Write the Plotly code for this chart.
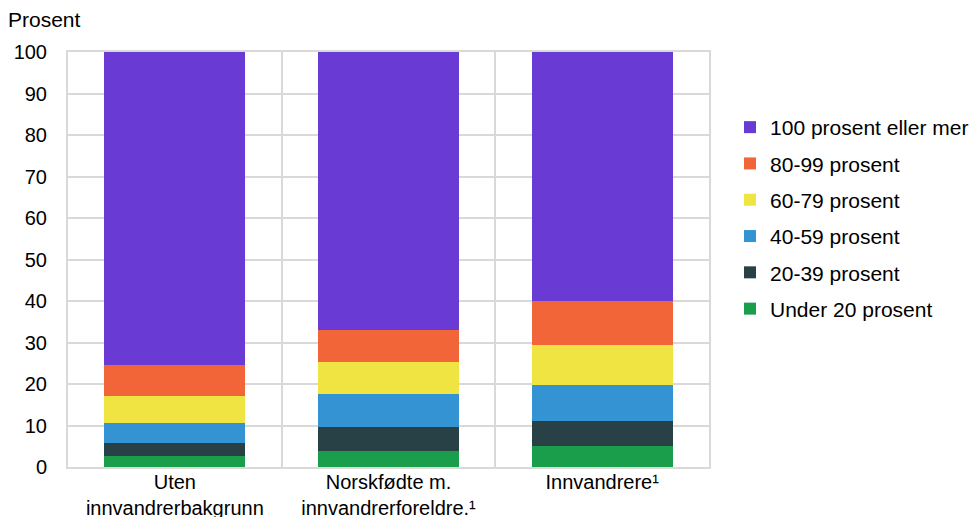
import plotly.graph_objects as go

categories = ["Uten<br>innvandrerbakgrunn", "Norskfødte m.<br>innvandrerforeldre.¹", "Innvandrere¹"]
series_names = ["Under 20 prosent", "20-39 prosent", "40-59 prosent", "60-79 prosent", "80-99 prosent", "100 prosent eller mer"]
under20 = [2.6, 3.8, 5.1]
p20_39 = [3.1, 5.9, 6.1]
p40_59 = [5.0, 7.8, 8.5]
p60_79 = [6.3, 7.8, 9.7]
p80_99 = [7.7, 7.7, 10.7]
p100 = [75.3, 67.0, 59.9]
y_ticks = [0, 10, 20, 30, 40, 50, 60, 70, 80, 90, 100]

values = [under20, p20_39, p40_59, p60_79, p80_99, p100]
colors = ["#1A9E4B", "#274147", "#3494D3", "#F0E442", "#F26539", "#6A3AD4"]

FONT = "Liberation Sans, Arial, sans-serif"

fig = go.Figure()
n = len(series_names)
for i, (name, vals, col) in enumerate(zip(series_names, values, colors)):
    fig.add_trace(go.Bar(
        x=categories, y=vals, name=name, marker_color=col,
        marker_line_width=0, legendgroup=name, legendrank=n - i,
    ))

fig.update_layout(
    barmode="stack",
    bargap=0.34,
    width=971, height=517,
    margin=dict(l=68, r=262, t=52, b=50, autoexpand=False),
    plot_bgcolor="white",
    paper_bgcolor="white",
    font=dict(family=FONT, size=21, color="#000000"),
    showlegend=True,
    legend=dict(
        traceorder="grouped",
        tracegroupgap=6,
        x=1.0328, xref="paper", xanchor="left",
        y=0.8675, yref="paper", yanchor="top",
        font=dict(family=FONT, size=21, color="#000000"),
        itemwidth=30,
        bgcolor="rgba(0,0,0,0)",
    ),
    annotations=[dict(
        text="Prosent", xref="paper", yref="paper", x=-0.097, y=1.0,
        xanchor="left", yanchor="bottom", yshift=19, showarrow=False,
        font=dict(family=FONT, size=21, color="#000000"),
    )],
)

fig.update_xaxes(
    type="category",
    tickson="boundaries",
    automargin=False,
    showgrid=True, gridcolor="#D9D9D9", gridwidth=2,
    showline=True, linecolor="#D9D9D9", linewidth=2, mirror=True,
    ticks="", ticklabelstandoff=-4,
    tickfont=dict(family=FONT, size=20, color="#000000"),
)
fig.update_yaxes(
    range=[0, 100],
    tickvals=y_ticks,
    automargin=False,
    showgrid=True, gridcolor="#D9D9D9", gridwidth=2,
    showline=True, linecolor="#D9D9D9", linewidth=2, mirror=True,
    zeroline=False,
    ticks="", ticklabelstandoff=15,
    tickfont=dict(family=FONT, size=20, color="#000000"),
)

fig.write_html(
    "out.html",
    config={"displayModeBar": False},
    post_script="document.body.style.margin='0';document.body.style.overflow='hidden';",
)
